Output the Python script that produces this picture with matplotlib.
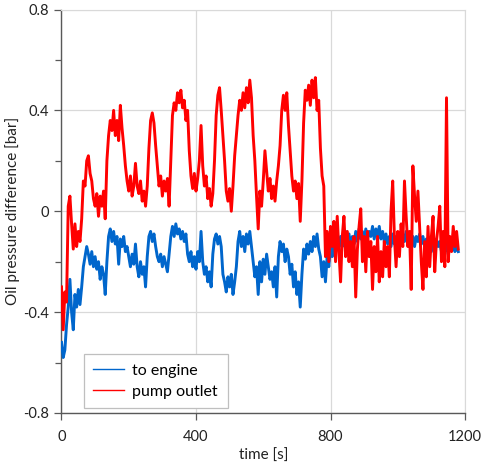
import numpy as np
import matplotlib
matplotlib.use("Agg")
import matplotlib.pyplot as plt
from matplotlib.ticker import FixedLocator, FuncFormatter

plt.rcParams['font.family'] = ['Lato', 'DejaVu Sans']

step_s = 5  # sampling interval of the traced series [s]

pump_outlet = [
    -0.30, -0.47, -0.32, -0.36, 0.02, 0.06, -0.05, -0.15, -0.05, -0.14,
    -0.08, -0.12, -0.03, 0.12, 0.10, 0.20, 0.22, 0.15, 0.12, 0.05,
    0.02, 0.07, -0.02, 0.06, 0.02, 0.08, -0.03, 0.20, 0.30, 0.36,
    0.32, 0.40, 0.30, 0.36, 0.28, 0.42, 0.33, 0.26, 0.18, 0.12,
    0.08, 0.14, 0.06, 0.10, 0.19, 0.10, 0.07, 0.12, 0.04, 0.08,
    0.02, 0.10, 0.25, 0.36, 0.39, 0.35, 0.26, 0.18, 0.10, 0.14,
    0.06, 0.12, 0.08, 0.13, 0.02, 0.20, 0.38, 0.43, 0.40, 0.47,
    0.43, 0.48, 0.41, 0.44, 0.36, 0.40, 0.24, 0.14, 0.09, 0.15,
    0.08, 0.13, 0.20, 0.34, 0.18, 0.10, 0.14, 0.05, 0.09, 0.02,
    0.07, 0.20, 0.38, 0.46, 0.49, 0.40, 0.30, 0.20, 0.08, 0.04,
    0.09, 0.00, 0.10, 0.22, 0.30, 0.38, 0.44, 0.40, 0.47, 0.41,
    0.49, 0.43, 0.52, 0.45, 0.30, 0.20, 0.06, -0.07, 0.08, 0.02,
    0.12, 0.24, 0.16, 0.08, 0.13, 0.05, 0.10, 0.04, 0.12, 0.18,
    0.26, 0.40, 0.46, 0.40, 0.47, 0.34, 0.24, 0.14, 0.08, 0.12,
    0.05, 0.11, -0.04, 0.12, 0.35, 0.48, 0.44, 0.50, 0.42, 0.52,
    0.45, 0.53, 0.40, 0.44, 0.25, 0.14, 0.10, -0.18, -0.08, -0.20,
    -0.06, -0.14, -0.04, -0.20, -0.02, -0.16, -0.28, -0.10, -0.02, -0.18,
    -0.08, -0.20, -0.12, -0.22, -0.10, -0.34, -0.15, -0.06, 0.01, -0.20,
    -0.10, -0.24, -0.08, -0.18, -0.12, -0.31, -0.14, -0.24, -0.10, -0.28,
    -0.16, -0.26, -0.12, -0.22, -0.14, -0.26, 0.00, 0.12, -0.10, -0.22,
    -0.08, -0.18, -0.05, -0.14, 0.12, -0.02, -0.14, -0.08, -0.31, 0.18,
    0.06, -0.04, 0.08, -0.06, -0.20, -0.31, -0.12, -0.26, -0.06, -0.22,
    -0.10, -0.02, -0.24, -0.12, -0.06, 0.02, -0.20, -0.08, -0.22, 0.45,
    -0.20, -0.10, -0.16, -0.06, -0.14, -0.08, -0.15,
]

to_engine = [
    -0.52, -0.58, -0.55, -0.45, -0.38, -0.27, -0.40, -0.47, -0.33, -0.38,
    -0.31, -0.37, -0.30, -0.22, -0.18, -0.14, -0.17, -0.21, -0.16, -0.22,
    -0.18, -0.23, -0.20, -0.27, -0.22, -0.25, -0.33, -0.20, -0.10, -0.07,
    -0.12, -0.08, -0.13, -0.10, -0.21, -0.11, -0.14, -0.10, -0.16, -0.14,
    -0.18, -0.22, -0.17, -0.21, -0.13, -0.22, -0.26, -0.20, -0.25, -0.22,
    -0.30, -0.18, -0.10, -0.08, -0.12, -0.09, -0.14, -0.18, -0.20, -0.17,
    -0.22, -0.18, -0.21, -0.24, -0.17, -0.10, -0.06, -0.10, -0.05, -0.09,
    -0.07, -0.11, -0.08, -0.12, -0.09, -0.17, -0.20, -0.16, -0.22, -0.18,
    -0.23, -0.16, -0.20, -0.08, -0.20, -0.25, -0.22, -0.28, -0.24, -0.30,
    -0.17, -0.11, -0.09, -0.13, -0.10, -0.14, -0.25, -0.28, -0.32, -0.26,
    -0.30, -0.25, -0.33, -0.28, -0.22, -0.12, -0.08, -0.14, -0.10, -0.16,
    -0.09, -0.13, -0.08, -0.14, -0.20, -0.26, -0.22, -0.33, -0.20, -0.28,
    -0.19, -0.25, -0.17, -0.22, -0.27, -0.24, -0.30, -0.22, -0.34, -0.18,
    -0.12, -0.16, -0.13, -0.20, -0.15, -0.18, -0.25, -0.21, -0.30, -0.24,
    -0.33, -0.28, -0.38, -0.25, -0.15, -0.19, -0.13, -0.17, -0.12, -0.16,
    -0.10, -0.14, -0.09, -0.15, -0.18, -0.26, -0.20, -0.28, -0.18, -0.22,
    -0.14, -0.18, -0.12, -0.16, -0.11, -0.15, -0.10, -0.14, -0.12, -0.08,
    -0.13, -0.09, -0.14, -0.10, -0.13, -0.08, -0.12, -0.07, -0.11, -0.08,
    -0.12, -0.07, -0.11, -0.08, -0.10, -0.06, -0.11, -0.07, -0.10, -0.06,
    -0.11, -0.08, -0.12, -0.09, -0.13, -0.10, -0.14, -0.09, -0.13, -0.10,
    -0.14, -0.10, -0.13, -0.09, -0.12, -0.08, -0.12, -0.09, -0.13, -0.10,
    -0.14, -0.10, -0.12, -0.09, -0.13, -0.10, -0.14, -0.11, -0.15, -0.12,
    -0.16, -0.12, -0.15, -0.11, -0.14, -0.12, -0.16, -0.13, -0.17, -0.13,
    -0.16, -0.12, -0.15, -0.13, -0.16, -0.14, -0.16,
]

series_labels = ["to engine", "pump outlet"]
x_ticks = [0, 400, 800, 1200]
y_ticks = [-0.8, -0.4, 0, 0.4, 0.8]
y_minor = [-0.6, -0.2, 0.2, 0.6]

t_engine = np.arange(len(to_engine)) * step_s
t_pump = np.arange(len(pump_outlet)) * step_s

fig = plt.figure(figsize=(4.85, 4.62), dpi=100)
ax = fig.add_axes([61.5 / 485, 1 - 413 / 462, 403.5 / 485, 403.5 / 462])

ax.plot(t_engine, to_engine, color="#0066CC", lw=2.1, label=series_labels[0], zorder=3)
ax.plot(t_pump, pump_outlet, color="#FF0000", lw=2.1, label=series_labels[1], zorder=4)

ax.set_xlim(0, 1200)
ax.set_ylim(-0.8, 0.8)
ax.xaxis.set_major_locator(FixedLocator(x_ticks))
ax.yaxis.set_major_locator(FixedLocator(y_ticks))
ax.yaxis.set_minor_locator(FixedLocator(y_minor))
ax.yaxis.set_major_formatter(FuncFormatter(lambda v, p: "0" if abs(v) < 1e-9 else f"{v:.1f}"))
ax.xaxis.set_major_formatter(FuncFormatter(lambda v, p: f"{int(v)}"))

ax.grid(True, which="major", color="#D9D9D9", lw=0.9, zorder=0)
ax.set_axisbelow(True)
for s in ["top", "right"]:
    ax.spines[s].set_color("#D9D9D9")
for s in ["left", "bottom"]:
    ax.spines[s].set_color("#595959")
    ax.spines[s].set_linewidth(1.0)

ax.tick_params(axis="both", which="major", direction="out", length=5, width=0.9,
               color="#595959", labelsize=10.5, labelcolor="#222222")
ax.tick_params(axis="y", which="minor", direction="out", length=4, width=0.9, color="#595959")
ax.tick_params(axis="y", pad=4)
ax.tick_params(axis="x", pad=7)

ax.set_xlabel("time [s]", fontsize=11, color="#222222", labelpad=4)
ax.set_ylabel("Oil pressure difference [bar]", fontsize=11, color="#222222", labelpad=2)

leg = ax.legend(loc="lower left", bbox_to_anchor=(0.035, -0.008), fontsize=11.5,
                frameon=True, fancybox=False, edgecolor="#BFBFBF", framealpha=1,
                handlelength=1.9, handletextpad=0.55, borderpad=0.6, labelspacing=0.4)
for line in leg.get_lines():
    line.set_linewidth(1.0)
leg.get_frame().set_linewidth(0.9)

fig.savefig("out.png", dpi=100)
